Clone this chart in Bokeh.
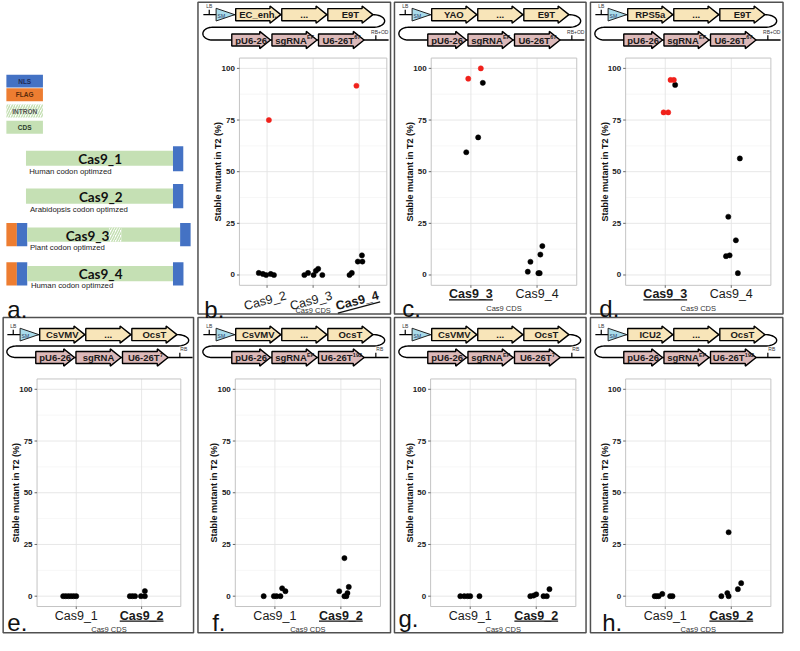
import math
import numpy as np
from bokeh.plotting import figure
from bokeh.models import Range1d
from bokeh.embed import file_html
from bokeh.resources import INLINE
from bokeh.core.properties import value

# ---------------- data ----------------
y_ticks = [0, 25, 50, 75, 100]
y_minor = [12.5, 37.5, 62.5, 87.5]
y_title = "Stable mutant in T2 (%)"
x_title = "Cas9 CDS"

b_categories = ["Cas9_2", "Cas9_3", "Cas9_4"]
b_highlight = "Cas9_4"
b_black_cat = [1, 1, 1, 1, 1, 2, 2, 2, 2, 2, 2, 3, 3, 3, 3, 3]
b_black_jit = [-0.18, -0.09, -0.02, 0.08, 0.15, -0.19, -0.11, 0.01, 0.06, 0.11, 0.20, -0.21, -0.16, -0.03, 0.06, 0.07]
b_black_val = [1, 0.5, 0, 0.5, 0, 0, 1, 0, 2, 3, 0, 0, 1, 6.5, 9.5, 6.5]
b_red_cat = [1, 3]
b_red_jit = [0.04, -0.06]
b_red_val = [75, 91.6]

c_categories = ["Cas9_3", "Cas9_4"]
c_highlight = "Cas9_3"
c_black_cat = [1, 1, 1, 2, 2, 2, 2, 2, 2]
c_black_jit = [0.18, 0.11, -0.07, -0.14, -0.10, 0.02, 0.04, 0.05, 0.08]
c_black_val = [93, 66.6, 59.4, 1.6, 6.4, 0.9, 0.9, 9.9, 14]
c_red_cat = [1, 1]
c_red_jit = [-0.04, 0.15]
c_red_val = [95, 100]

d_categories = ["Cas9_3", "Cas9_4"]
d_highlight = "Cas9_3"
d_black_cat = [1, 2, 2, 2, 2, 2, 2]
d_black_jit = [0.15, 0.13, -0.045, 0.07, -0.08, -0.025, 0.10]
d_black_val = [92, 56.4, 28.2, 16.8, 9.1, 9.5, 0.9]
d_red_cat = [1, 1, 1, 1]
d_red_jit = [-0.025, 0.045, 0.08, 0.13]
d_red_val = [78.7, 78.7, 94.4, 94.4]

e_categories = ["Cas9_1", "Cas9_2"]
e_highlight = "Cas9_2"
e_black_cat = [1, 1, 1, 1, 1, 1, 2, 2, 2, 2, 2, 2]
e_black_jit = [-0.20, -0.16, -0.12, -0.08, -0.04, 0.0, -0.18, -0.14, -0.10, -0.01, 0.05, 0.05]
e_black_val = [0, 0, 0, 0, 0, 0, 0, 0, 0, 0, 0, 2.5]

f_categories = ["Cas9_1", "Cas9_2"]
f_highlight = "Cas9_2"
f_black_cat = [1, 1, 1, 1, 1, 1, 2, 2, 2, 2, 2, 2]
f_black_jit = [-0.17, -0.015, 0.025, 0.084, 0.11, 0.16, -0.025, 0.054, 0.054, 0.084, 0.10, 0.12]
f_black_val = [0, 0, 0, 0, 3.8, 2.4, 2.4, 18.4, 0, 0, 1.5, 4.5]

g_categories = ["Cas9_1", "Cas9_2"]
g_highlight = "Cas9_2"
g_black_cat = [1, 1, 1, 1, 1, 2, 2, 2, 2, 2, 2]
g_black_jit = [-0.15, -0.09, -0.04, 0.0, 0.14, -0.09, -0.04, 0.0, 0.11, 0.16, 0.20]
g_black_val = [0, 0, 0, 0, 0, 0, 0.3, 0.9, 0, 0, 3.4]

h_categories = ["Cas9_1", "Cas9_2"]
h_highlight = "Cas9_2"
h_black_cat = [1, 1, 1, 1, 1, 1, 2, 2, 2, 2, 2, 2]
h_black_jit = [-0.16, -0.13, -0.10, -0.045, 0.074, 0.11, -0.15, -0.06, -0.04, -0.04, 0.10, 0.15]
h_black_val = [0, 0, 0, 1.1, 0, 0, 0, 1.5, 0, 30.9, 3.4, 6.3]

# construct diagram texts (panels b..h)
panel_ids = ["b", "c", "d", "e", "f", "g", "h"]
promoter_labels = ["EC_enh.", "YAO", "RPS5a", "CsVMV", "CsVMV", "CsVMV", "ICU2"]
terminator_labels = ["E9T", "E9T", "E9T", "OcsT", "OcsT", "OcsT", "OcsT"]
sgrna_sup = ["EF", "EF", "EF", "", "EF", "EF", "EF"]
u6t_sup = ["67", "67", "67", "7", "192", "7", "192"]
border_labels = ["RB+OD", "RB+OD", "RB+OD", "RB", "RB", "RB", "RB"]

# panel a schematic
legend_labels = ["NLS", "FLAG", "INTRON", "CDS"]
cas9_names = ["Cas9_1", "Cas9_2", "Cas9_3", "Cas9_4"]
cas9_notes = ["Human codon optimzed", "Arabidopsis codon optimzed",
              "Plant codon optimzed", "Human codon optimzed"]

# ---------------- styling / layout ----------------
W, H = 784, 635
SX = W / 800.0
SY = H / 651.0
FONT = value("Liberation Sans")
LATO = value("Lato")
C_NLS, C_FLAG, C_CDS = "#4472c4", "#ed7d31", "#c5e0b4"
C_TOP, C_BOT, C_SM = "#f8e5b9", "#dcb9b9", "#a9dbea"

p = figure(width=W, height=H, x_range=Range1d(0, 800), y_range=Range1d(651, 0),
           output_backend="svg", toolbar_location=None, min_border=0,
           x_axis_location=None, y_axis_location=None)
p.outline_line_color = None
p.grid.visible = False
p.background_fill_color = "white"
p.border_fill_color = "white"

BOLD_W = {'A': .722, 'B': .722, 'C': .722, 'D': .722, 'E': .667, 'F': .611, 'I': .278,
          'L': .611, 'M': .833, 'N': .722, 'O': .778, 'P': .667, 'R': .722, 'S': .667,
          'T': .611, 'U': .722, 'V': .667, 'Y': .667, 'a': .556, 'c': .556, 'e': .556,
          'g': .611, 'h': .611, 'n': .611, 'p': .611, 's': .556, '_': .556, '.': .278,
          '-': .333, '+': .584}


def tw(s, size):
    return sum(.556 if ch.isdigit() else BOLD_W.get(ch, .6) for ch in s) * size


# ---------------- panel a ----------------
leg_top = [76, 90, 106.7, 123.3]
leg_bot = [89.3, 103.3, 120, 136.7]
leg_fill = [C_NLS, C_FLAG, "white", C_CDS]
p.quad(left=[6] * 4, right=[43.3] * 4, top=leg_top, bottom=leg_bot,
       fill_color=leg_fill, line_color=None)
p.quad(left=[6], right=[43.3], top=[leg_top[2]], bottom=[leg_bot[2]], fill_color="white",
       line_color=None, hatch_pattern="/", hatch_color=C_CDS, hatch_scale=5, hatch_weight=1.5)
p.text(x=[24.7] * 4, y=[(a + b) / 2 for a, b in zip(leg_top, leg_bot)], text=legend_labels,
       text_font=FONT, text_font_style="bold", text_font_size="6.5px",
       text_align="center", text_baseline="middle",
       text_color=["#1f2a55", "#5a2a0a", "#555555", "#2a3a2a"])

# bars: left, right, top, bottom, colour
a_left = [26, 176, 26, 176, 6, 16.7, 27.3, 183.3, 6, 16.7, 27.3, 176]
a_right = [176, 186.5, 176, 186.5, 16.7, 27.3, 183.3, 194, 16.7, 27.3, 176, 186.7]
a_top = [154, 149.3, 192.7, 188, 228, 228, 232.7, 228, 268.3, 268.3, 272.3, 268.3]
a_bot = [169.3, 175, 208.3, 213, 252, 252, 247.3, 252, 292.3, 292.3, 287.7, 292.3]
a_col = [C_CDS, C_NLS, C_CDS, C_NLS, C_FLAG, C_NLS, C_CDS, C_NLS, C_FLAG, C_NLS, C_CDS, C_NLS]
p.quad(left=a_left, right=a_right, top=a_top, bottom=a_bot, fill_color=a_col, line_color=None)
p.quad(left=[110.7], right=[123.3], top=[232.7], bottom=[247.3], fill_color="white",
       line_color=None, hatch_pattern="/", hatch_color=C_CDS, hatch_scale=5, hatch_weight=1.5)
p.text(x=[101.7, 102.3, 88.8, 102.2], y=[162, 201, 241.5, 280.5], text=cas9_names,
       text_font=LATO, text_font_style="bold", text_font_size="13.5px",
       text_align="center", text_baseline="middle", text_color="#111111")
p.text(x=[29.3, 30, 30, 31], y=[175.5, 214, 253.5, 292], text=cas9_notes,
       text_font=FONT, text_font_size="7.8px", text_align="left", text_baseline="middle",
       text_color="#222222")

# ---------------- panel borders and letters ----------------
box_l = [201.5, 402, 602, 2.7, 201.5, 402, 602]
box_t = [1.7, 1.7, 1.7, 325, 325, 325, 325]
box_r = [398, 597.5, 798.5, 197, 398, 597.5, 798.3]
box_b = [321.5, 321.5, 321.5, 648.3, 648.3, 648.3, 648.3]
p.quad(left=box_l, right=box_r, top=box_t, bottom=box_b, fill_color=None,
       line_color="#505050", line_width=1.5)
p.text(x=[7, 208, 410, 611, 7, 216, 406, 614], y=[317, 317, 316, 316, 638, 638, 634, 638],
       text=["a.", "b.", "c.", "d.", "e.", "f.", "g.", "h."], text_font=FONT,
       text_font_size="24px", text_align="left", text_baseline="alphabetic",
       text_color="#111111")

# ---------------- construct diagrams ----------------
diag_dx = [202, 402, 602, 2, 202, 402, 602]
diag_rows = [(14.5, 40.5), (14.5, 40.5), (14.5, 40.5), (342.5, 366), (342.5, 366), (342.5, 366), (342.5, 366)]
top_spans = [(38, 84), (85, 131), (132, 178)]
bot_spans = [(34, 73.5), (75, 121), (122.5, 169)]


def arrow(x0, x1, yc, hl=11, bh=6.2, hh=8.8):
    xs = [x0, x1 - hl, x1 - hl, x1, x1 - hl, x1 - hl, x0]
    ys = [yc - bh, yc - bh, yc - hh, yc, yc + hh, yc + bh, yc + bh]
    return xs, ys


main_x, main_y, main_t = [], [], []
sup_x, sup_y, sup_t = [], [], []
for k in range(7):
    dx = diag_dx[k]
    yt, yb = diag_rows[k]
    ym = (yt + yb) / 2.0
    # serpentine backbone
    px, py = [dx + 5, dx + 178], [yt, yt]
    for t in np.linspace(-math.pi / 2, math.pi / 2, 25):
        px.append(dx + 178 + 12 * math.cos(t))
        py.append((yt + ym) / 2 + (ym - yt) / 2 * math.sin(t))
    px.append(dx + 14); py.append(ym)
    for t in np.linspace(-math.pi / 2, math.pi / 2, 25):
        px.append(dx + 14 - 9.5 * math.cos(t))
        py.append((ym + yb) / 2 + (yb - ym) / 2 * math.sin(t))
    px.append(dx + 194); py.append(yb)
    p.line(px, py, line_color="black", line_width=1.4)
    # LB / RB ticks
    p.segment(x0=[dx + 11, dx + 181], y0=[yt, yb], x1=[dx + 11, dx + 181], y1=[yt - 5, yb - 5],
              line_color="black", line_width=1.2)
    p.text(x=[dx + 11, dx + 185], y=[yt - 8.5, yb - 8.5], text=["LB", border_labels[k]],
           text_font=FONT, text_font_size="5px", text_align="center", text_baseline="middle",
           text_color="#333333")
    # SM triangle
    p.patch([dx + 18, dx + 18, dx + 37], [yt - 6.5, yt + 6.5, yt], fill_color=C_SM,
            line_color="#222222", line_width=1)
    p.text(x=[dx + 19.5], y=[yt + 1], text=["SM"], text_font=FONT, text_font_size="5px",
           text_align="left", text_baseline="middle", text_color="#1f3864")
    # arrows
    xs_all, ys_all, cols = [], [], []
    for (a0, a1) in top_spans:
        xs, ys = arrow(dx + a0, dx + a1, yt)
        xs_all.append(xs); ys_all.append(ys); cols.append(C_TOP)
    for (a0, a1) in bot_spans:
        xs, ys = arrow(dx + a0, dx + a1, yb)
        xs_all.append(xs); ys_all.append(ys); cols.append(C_BOT)
    p.patches(xs_all, ys_all, fill_color=cols, line_color="black", line_width=1.4)
    labels = [(promoter_labels[k], ""), ("...", ""), (terminator_labels[k], ""),
              ("pU6-26", ""), ("sgRNA", sgrna_sup[k]), ("U6-26T", u6t_sup[k])]
    spans = top_spans + bot_spans
    for i, (m, s) in enumerate(labels):
        yc = yt if i < 3 else yb
        a0, a1 = spans[i]
        cx = dx + (a0 + a1) / 2.0
        wm = tw(m, 9.5) / SX
        ws = tw(s, 5.5) / SX
        x0 = cx - (wm + ws) / 2
        main_x.append(x0); main_y.append(yc + 0.3); main_t.append(m)
        if s:
            sup_x.append(x0 + wm + 0.3); sup_y.append(yc - 3); sup_t.append(s)

p.text(x=main_x, y=main_y, text=main_t, text_font=FONT, text_font_style="bold",
       text_font_size="9.5px", text_align="left", text_baseline="middle", text_color="#1a1a1a")
p.text(x=sup_x, y=sup_y, text=sup_t, text_font=FONT, text_font_style="bold",
       text_font_size="5.5px", text_align="left", text_baseline="middle", text_color="#1a1a1a")

# ---------------- scatter panels ----------------
frames = [(243.8, 394.2, 59, 292), (439.5, 588, 59, 292), (637.9, 786.1, 59, 292),
          (37.3, 184, 388, 621.3), (239.6, 387.7, 388, 621.3), (438.9, 587.1, 388, 621.3),
          (637.9, 786.1, 388, 621.3)]
panel_data = [
    (b_categories, b_highlight, (b_black_cat, b_black_jit, b_black_val), (b_red_cat, b_red_jit, b_red_val)),
    (c_categories, c_highlight, (c_black_cat, c_black_jit, c_black_val), (c_red_cat, c_red_jit, c_red_val)),
    (d_categories, d_highlight, (d_black_cat, d_black_jit, d_black_val), (d_red_cat, d_red_jit, d_red_val)),
    (e_categories, e_highlight, (e_black_cat, e_black_jit, e_black_val), None),
    (f_categories, f_highlight, (f_black_cat, f_black_jit, f_black_val), None),
    (g_categories, g_highlight, (g_black_cat, g_black_jit, g_black_val), None),
    (h_categories, h_highlight, (h_black_cat, h_black_jit, h_black_val), None),
]

for k, (cats, hl, blk, red) in enumerate(panel_data):
    L, R, T, B = frames[k]
    n = len(cats)
    xs0, xs1 = 0.4, n + 0.6
    sp = p.subplot(x_source=Range1d(xs0, xs1), y_source=Range1d(-5, 105),
                   x_target=Range1d(L, R), y_target=Range1d(B, T))
    ppx = (R - L) * SX / (xs1 - xs0)
    ppy = (B - T) * SY / 110.0
    cat_x = [i + 1 for i in range(n)]
    # grid
    sp.segment(x0=[xs0] * len(y_minor), y0=y_minor, x1=[xs1] * len(y_minor), y1=y_minor,
               line_color="#f1f1f1", line_width=0.6)
    sp.segment(x0=[xs0] * len(y_ticks), y0=y_ticks, x1=[xs1] * len(y_ticks), y1=y_ticks,
               line_color="#e4e4e4", line_width=0.9)
    sp.segment(x0=cat_x, y0=[-5] * n, x1=cat_x, y1=[105] * n, line_color="#e4e4e4", line_width=0.9)
    sp.quad(left=[xs0], right=[xs1], bottom=[-5], top=[105], fill_color=None,
            line_color="#c4c4c4", line_width=1)
    # ticks
    tl = 2.5
    sp.segment(x0=[xs0 - tl / ppx] * len(y_ticks), y0=y_ticks, x1=[xs0] * len(y_ticks), y1=y_ticks,
               line_color="#444444", line_width=0.8)
    sp.segment(x0=cat_x, y0=[-5] * n, x1=cat_x, y1=[-5 - tl / ppy] * n,
               line_color="#444444", line_width=0.8)
    sp.text(x=[xs0] * len(y_ticks), y=y_ticks, text=[str(t) for t in y_ticks], x_offset=-4.5,
            text_font=FONT, text_font_style="bold", text_font_size="8px",
            text_align="right", text_baseline="middle", text_color="#1a1a1a")
    sp.text(x=[xs0], y=[50], text=[y_title], x_offset=-21, angle=math.pi / 2,
            text_font=FONT, text_font_style="bold", text_font_size="9px",
            text_align="center", text_baseline="middle", text_color="#111111")
    # category labels
    rot = 0.26 if n == 3 else 0.0
    for i, c in enumerate(cats):
        bold = (c == hl)
        style = "bold" if bold else "normal"
        if rot == 0.0:
            sp.text(x=[cat_x[i]], y=[-5], text=[c], y_offset=2, text_font=FONT,
                    text_font_style=style, text_font_size="12.5px", text_align="center",
                    text_baseline="top", text_color="#1a1a1a")
            if bold:
                w = tw(c, 12.5)
                yu = -5 - 14.5 / ppy
                sp.segment(x0=[cat_x[i] - w / 2 / ppx], y0=[yu], x1=[cat_x[i] + w / 2 / ppx], y1=[yu],
                           line_color="#111111", line_width=1.3)
        else:
            off = 15.5
            sp.text(x=[cat_x[i] - 2 / ppx], y=[-5], text=[c], y_offset=off, angle=rot,
                    text_font=FONT, text_font_style=style, text_font_size="12.5px",
                    text_align="center", text_baseline="middle", text_color="#1a1a1a")
            if bold:
                w = tw(c, 12.5)
                cxs, cys = -2.0, off  # screen offsets of text centre
                ux = cxs + 7 * math.sin(rot)
                uy = cys + 7 * math.cos(rot)
                ex, ey = w / 2 * math.cos(rot), -w / 2 * math.sin(rot)
                sp.segment(x0=[cat_x[i] + (ux - ex) / ppx], y0=[-5 - (uy - ey) / ppy],
                           x1=[cat_x[i] + (ux + ex) / ppx], y1=[-5 - (uy + ey) / ppy],
                           line_color="#111111", line_width=1.3)
    sp.text(x=[(xs0 + xs1) / 2], y=[-5], text=[x_title], y_offset=(25.5 if n == 3 else 23),
            text_font=FONT, text_font_size="7.5px", text_align="center",
            text_baseline="middle", text_color="#333333")
    # points
    bc, bj, bv = blk
    sp.scatter(x=[c + j for c, j in zip(bc, bj)], y=bv, size=5.2, fill_color="black",
               line_color="black", line_width=0.5)
    if red is not None:
        rc, rj, rv = red
        sp.scatter(x=[c + j for c, j in zip(rc, rj)], y=rv, size=5.2, fill_color="#f0211b",
                   line_color="#f0211b", line_width=0.5)

open("out.html", "w").write(file_html(p, INLINE))
